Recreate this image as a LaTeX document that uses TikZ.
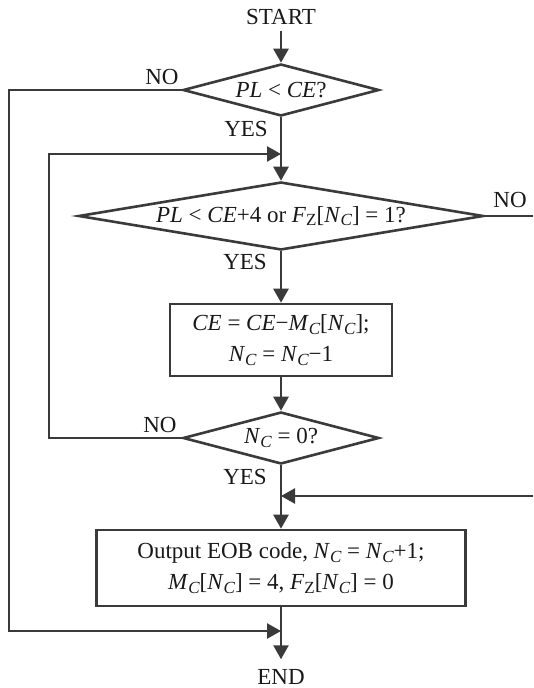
\documentclass[tikz,border=0pt]{standalone}
\usepackage{fontspec}
\setmainfont{Liberation Serif}
\usetikzlibrary{shapes.geometric,arrows.meta,calc}
\definecolor{ln}{RGB}{58,58,58}
\definecolor{tx}{RGB}{25,25,25}
\newcommand{\sbC}{\raisebox{-0.35ex}{\fontsize{17}{17}\selectfont\itshape C}}
\newcommand{\sbZ}{\raisebox{-0.35ex}{\fontsize{17}{17}\selectfont Z}}
\newcommand{\vNC}{\textit{N}\sbC}
\newcommand{\vMC}{\textit{M}\sbC}
\newcommand{\vFZ}{\textit{F}\sbZ}
\newcommand{\mns}{−}
\begin{document}
\begin{tikzpicture}[x=1pt,y=-1pt,
  every node/.style={font=\fontsize{23}{31}\selectfont, text=tx},
  flow/.style={draw=ln, line width=2.6pt},
  arr/.style={flow, -{Triangle[length=14pt,width=15pt]}},
  dec/.style={flow, shape=diamond, inner sep=0pt},
  proc/.style={flow, shape=rectangle, inner sep=0pt, align=center},
  lbl/.style={inner sep=0pt}]
\useasboundingbox (0,0) rectangle (533,688);
\clip (0,0) rectangle (533,688);

\node[inner sep=2pt] (start) at (281,17) {START};
\node[dec, minimum width=196pt, minimum height=52pt, aspect=3.77] (d1) at (281,90) {\textit{PL} < \textit{CE}?};
\node[dec, minimum width=405pt, minimum height=68pt, aspect=6] (d2) at (281,216) {\textit{PL} < \textit{CE}+4 or \vFZ[\vNC] = 1?};
\node[proc, minimum width=222pt, minimum height=72pt] (b1) at (281,340) {\textit{CE} = \textit{CE}\mns\vMC[\vNC];\\ \vNC{} = \vNC\mns1};
\node[dec, minimum width=196pt, minimum height=52pt, aspect=3.77] (d3) at (281,438) {\vNC{} = 0?};
\node[proc, minimum width=369pt, minimum height=76pt] (b2) at (281,568) {Output EOB code, \vNC{} = \vNC+1;\\ \vMC[\vNC] = 4, \vFZ[\vNC] = 0};
\node[inner sep=2pt] (end) at (281,677) {END};

\coordinate (j1) at (281,154);
\coordinate (j2) at (281,496);
\coordinate (j3) at (281,631);
\coordinate (L1) at (9,631);
\coordinate (L2) at (49,154);
\coordinate (R1) at (548,496);

\draw[arr, shorten <=4pt] (start) -- (d1);
\draw[arr] (d1) -- (d2);
\draw[arr] (d2) -- (b1);
\draw[arr] (b1) -- (d3);
\draw[arr] (d3) -- (b2);
\draw[arr, shorten >=8pt] (b2) -- (end);

\draw[arr] (d1.west) -| (L1) -- (j3);
\draw[arr] (d3.west) -| (L2) -- (j1);
\draw[arr] (d2.east) -| (R1) -- (j2);

\node[lbl] (no1) at (162,77) {NO};
\node[lbl] (yes1) at (246,129) {YES};
\node[lbl] (no2) at (510,200) {NO};
\node[lbl] (yes2) at (245,262) {YES};
\node[lbl] (no3) at (160,425) {NO};
\node[lbl] (yes3) at (245,477) {YES};
\end{tikzpicture}
\end{document}
